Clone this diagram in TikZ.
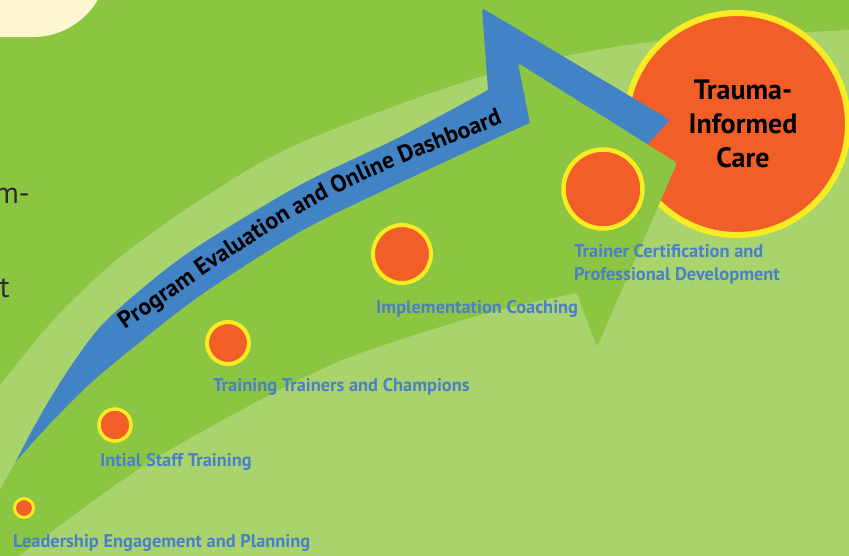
\documentclass[tikz,border=0pt]{standalone}
\usepackage{fontspec}
\setmainfont{PT Sans}
\usetikzlibrary{decorations.text,positioning}

\definecolor{bggreen}{RGB}{140,197,65}
\definecolor{lightgreen}{RGB}{169,211,108}
\definecolor{cream}{RGB}{252,247,209}
\definecolor{arrowblue}{RGB}{66,131,198}
\definecolor{dotorange}{RGB}{241,94,40}
\definecolor{ringyellow}{RGB}{250,236,35}
\definecolor{labelblue}{RGB}{74,128,200}
\definecolor{textgray}{RGB}{45,45,45}

\tikzset{
  dot/.style={shape=circle, fill=dotorange, draw=ringyellow, line width=4pt, inner sep=0pt},
  stage/.style={font=\fontsize{18.4}{23}\selectfont\bfseries, text=labelblue, inner sep=0pt, align=left},
}

\begin{document}
\begin{tikzpicture}[x=1pt, y=-1pt]
	\useasboundingbox (0,0) rectangle (849,555);
	\clip (0,0) rectangle (849,555);
	\fill[bggreen] (0,0) rectangle (849,555);

	% light swoosh and cream corner
	\fill[lightgreen] plot[smooth] coordinates {(0,385) (20,360) (60,313) (120,257) (200,200) (300,143) (487,75) (650,42) (849,30) (870,29)} -- (870,570) -- (-10,570) -- cycle;
	\fill[cream, rounded corners=75] (-200,-200) rectangle (108,37);

	% cut-off text of the next column
	\node[anchor=base east, inner sep=0pt, text=textgray, font=\fontsize{30}{30}\selectfont] (cutm) at (30,203) {m-};
	\node[anchor=base east, inner sep=0pt, text=textgray, font=\fontsize{30}{30}\selectfont] (cutt) at (10,297) {t};

	% goal
	\node[dot, line width=6pt, minimum size=222] (tic) at (737,124) {};

	% blue arrow
	\fill[arrowblue] plot[smooth] coordinates {(15,463) (35,425) (63,378) (100,327) (150,282) (200,245) (300,185) (400,137) (488,90)}
		[rounded corners=3] -- (482,8) -- (670,120) -- (640,152) [sharp corners] -- (530,123)
		-- plot[smooth] coordinates {(530,123) (400,183) (300,232) (200,296) (133,348) (90,384) (50,424) (15,463)} -- cycle;
	\path[decorate, decoration={text along path, text align=center,
		text={|\fontsize{23.8}{24}\selectfont\bfseries|Program Evaluation and Online Dashboard}}]
		(122,332) .. controls (316,197) .. (506,122);

	% green arrow
	\fill[bggreen] (0,490) -- plot[smooth] coordinates {(15,463) (50,424) (90,384) (133,348) (200,296) (300,232) (400,183) (530,123)}
		[rounded corners=3] -- (518,63) -- (677,163) -- (597,347) -- (577,293) [sharp corners]
		-- plot[smooth] coordinates {(577,293) (480,315) (350,357) (260,400) (140,468) (20,555)} -- (0,560) -- cycle;

	% stages
	\node[dot, line width=3pt, minimum size=19] (lead) at (24,508) {};
	\node[dot, line width=3.5pt, minimum size=32] (init) at (115,425) {};
	\node[dot, minimum size=42] (ttc) at (228,343) {};
	\node[dot, minimum size=58] (impl) at (402,254) {};
	\node[dot, line width=4.5pt, minimum size=79] (cert) at (603,189) {};

	\node[stage, anchor=base west] (leadlbl) at (13,547) {Leadership Engagement and Planning};
	\node[stage, anchor=base west] (initlbl) at (100,466) {Intial Staff Training};
	\node[stage, anchor=base west] (ttclbl) at (213,391) {Training Trainers and Champions};
	\node[stage, anchor=base west] (impllbl) at (376,313) {Implementation Coaching};
	\node[stage, anchor=base west] (certlbl) at (574,280) {Trainer Certification and\\Professional Development};

	\node[font=\fontsize{28}{34}\selectfont\bfseries, align=center, inner sep=0pt] (tictext) at ([xshift=6]tic.center) {Trauma-\\Informed\\Care};
\end{tikzpicture}
\end{document}
